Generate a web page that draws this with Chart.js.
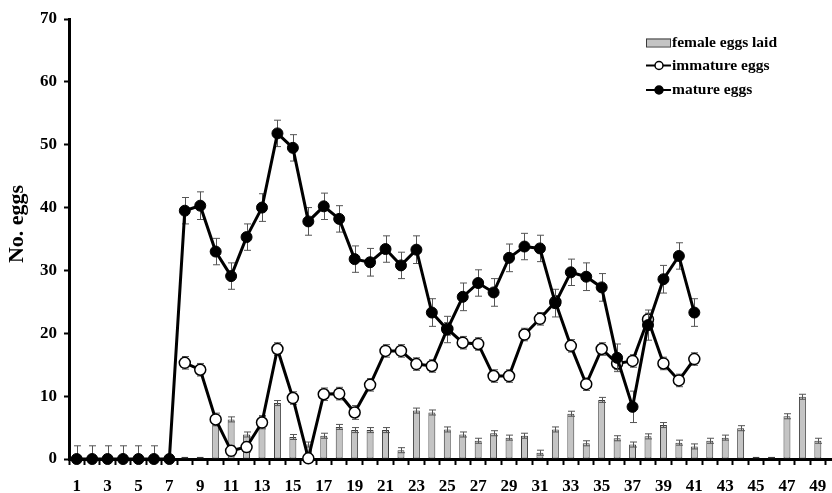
<!DOCTYPE html>
<html>
<head>
<meta charset="utf-8">
<script src="https://cdn.jsdelivr.net/npm/chart.js@4/dist/chart.umd.min.js"></script>
<style>
  html, body { margin: 0; padding: 0; background: #fff; overflow: hidden; }
  #wrap { width: 832px; height: 493px; overflow: hidden; }
  canvas { display: block; }
</style>
</head>
<body>
<div id="wrap"><canvas id="c" width="848" height="493"></canvas></div>
<script>
// Day of adult life
const days = Array.from({ length: 50 }, (_, i) => String(i + 1));

// Mature eggs in ovaries (mean and SE)
const matureEggs = [0, 0, 0, 0, 0, 0, 0,
  39.5, 40.3, 33.0, 29.1, 35.3, 40.0, 51.8, 49.5, 37.8, 40.2, 38.2, 31.8, 31.3,
  33.4, 30.8, 33.3, 23.3, 20.6, 25.8, 28.0, 26.5, 32.0, 33.8, 33.5, 24.8, 29.7,
  29.0, 27.3, 16.1, 8.3, 21.3, 28.6, 32.3, 23.3,
  null, null, null, null, null, null, null, null, null];
const matureSE = [2.1, 2.1, 2.1, 2.1, 2.1, 2.1, 0,
  2.1, 2.2, 2.1, 2.1, 2.1, 2.2, 2.1, 2.1, 2.2, 2.1, 2.1, 2.1, 2.2,
  2.1, 2.1, 2.2, 2.2, 2.1, 2.2, 2.1, 2.2, 2.2, 2.1, 2.1, 2.2, 2.1,
  2.2, 2.2, 2.2, 2.5, 2.4, 2.2, 2.1, 2.2,
  null, null, null, null, null, null, null, null, null];

// Immature eggs in ovaries (mean and SE)
const immatureEggs = [null, null, null, null, null, null, null,
  15.3, 14.2, 6.3, 1.3, 1.9, 5.8, 17.5, 9.7, 0.1, 10.3, 10.4, 7.4, 11.8,
  17.2, 17.2, 15.1, 14.8, 20.7, 18.5, 18.3, 13.2, 13.2, 19.8, 22.3, 25.0, 18.0,
  11.9, 17.5, 15.2, 15.6, 22.2, 15.2, 12.5, 15.9,
  null, null, null, null, null, null, null, null, null];
const immatureSE = [null, null, null, null, null, null, null,
  1.0, 1.0, 1.0, 0.8, 0.8, 1.0, 1.0, 1.0, 0.8, 1.0, 1.0, 1.1, 1.0,
  1.0, 1.0, 1.0, 1.0, 1.0, 1.0, 1.0, 1.0, 1.0, 1.0, 1.0, 1.0, 1.0,
  1.0, 1.0, 1.0, 1.0, 1.0, 1.0, 1.0, 1.0,
  null, null, null, null, null, null, null, null, null];

// Eggs laid per female per day (mean and SE)
const eggsLaid = [null, null, null, null, null, null, null,
  0.35, 0.35, 5.7, 6.3, 3.9, 6.5, 8.9, 3.5, 2.3, 3.7, 5.1, 4.6, 4.6,
  4.6, 1.4, 7.7, 7.4, 4.7, 3.9, 2.9, 4.1, 3.4, 3.7, 1.0, 4.7, 7.2,
  2.5, 9.4, 3.3, 2.3, 3.6, 5.4, 2.6, 2.0, 2.9, 3.4, 4.9, 0.35, 0.35,
  6.8, 9.9, 2.9, null];
const eggsLaidSE = [null, null, null, null, null, null, null,
  0, 0, 0.4, 0.4, 0.4, 0.4, 0.4, 0.4, 0.4, 0.4, 0.4, 0.4, 0.4,
  0.4, 0.4, 0.4, 0.4, 0.4, 0.4, 0.4, 0.4, 0.4, 0.4, 0.4, 0.4, 0.4,
  0.4, 0.4, 0.4, 0.4, 0.4, 0.4, 0.4, 0.4, 0.4, 0.4, 0.4, 0, 0,
  0.4, 0.4, 0.4, null];

const yTicks = [0, 10, 20, 30, 40, 50, 60, 70];
const yTitle = 'No. eggs';
const legendItems = ['female eggs laid', 'immature eggs', 'mature eggs'];

const SERIF = '"Liberation Serif", "Times New Roman", serif';
const BAR_FILL = '#c4c4c4';
const BAR_EDGE = '#3a3a3a';

// Whiskers (mean ± SE) for a dataset, computed through the chart scales
function drawWhiskers(chart, dsIndex, se) {
  const { ctx, chartArea, scales } = chart;
  const meta = chart.getDatasetMeta(dsIndex);
  const vals = chart.data.datasets[dsIndex].data;
  ctx.save();
  ctx.beginPath();
  ctx.rect(chartArea.left, chartArea.top, chartArea.right - chartArea.left, chartArea.bottom - chartArea.top);
  ctx.clip();
  ctx.strokeStyle = '#555';
  ctx.lineWidth = 1;
  meta.data.forEach((el, i) => {
    const v = vals[i], e = se[i];
    if (v == null || !e) return;
    const x = Math.round(el.x) + 0.5;
    const yHi = scales.y.getPixelForValue(v + e);
    const yLo = scales.y.getPixelForValue(v - e);
    ctx.beginPath();
    ctx.moveTo(x, yHi); ctx.lineTo(x, yLo);
    ctx.moveTo(x - 3.5, yHi); ctx.lineTo(x + 3.5, yHi);
    ctx.moveTo(x - 3.5, yLo); ctx.lineTo(x + 3.5, yLo);
    ctx.stroke();
  });
  ctx.restore();
}

const whiskerPlugin = {
  id: 'whiskers',
  beforeDatasetDraw(chart, args) {
    if (args.index === 0) drawWhiskers(chart, 0, matureSE);
    if (args.index === 1) drawWhiskers(chart, 1, immatureSE);
  },
  afterDatasetDraw(chart, args) {
    if (args.index === 2) drawWhiskers(chart, 2, eggsLaidSE);
  }
};

// Key in the upper right and the rotated y-axis title
const annotatePlugin = {
  id: 'annotate',
  afterDraw(chart) {
    const { ctx } = chart;
    ctx.save();
    ctx.font = 'bold 15.5px ' + SERIF;
    ctx.fillStyle = '#000';
    ctx.textBaseline = 'middle';
    ctx.textAlign = 'left';
    const x0 = 646, x1 = 671, tx = 672;
    const rows = [42.5, 65.5, 90];
    // bar swatch
    ctx.fillStyle = BAR_FILL;
    ctx.fillRect(x0, rows[0] - 4, x1 - x0, 8);
    ctx.strokeStyle = BAR_EDGE;
    ctx.lineWidth = 1;
    ctx.strokeRect(x0 + 0.5, rows[0] - 4 + 0.5, x1 - x0 - 1, 8);
    // line swatches
    [[rows[1], '#fff'], [rows[2], '#000']].forEach(([y, fill]) => {
      ctx.strokeStyle = '#000';
      ctx.lineWidth = 2;
      ctx.beginPath(); ctx.moveTo(x0, y); ctx.lineTo(x1, y); ctx.stroke();
      ctx.beginPath(); ctx.arc(659, y, 4, 0, Math.PI * 2);
      ctx.fillStyle = fill; ctx.fill();
      ctx.lineWidth = 1.5; ctx.stroke();
    });
    ctx.fillStyle = '#000';
    legendItems.forEach((t, i) => ctx.fillText(t, tx, rows[i]));
    // y title
    ctx.translate(17, 224);
    ctx.rotate(-Math.PI / 2);
    ctx.textAlign = 'center';
    ctx.font = 'bold 22px ' + SERIF;
    ctx.fillText(yTitle, 0, 0);
    ctx.restore();
  }
};

new Chart(document.getElementById('c'), {
  data: {
    labels: days,
    datasets: [
      {
        type: 'line', label: legendItems[2], data: matureEggs,
        borderColor: '#000', borderWidth: 3, backgroundColor: '#000',
        pointRadius: 5.5, pointBackgroundColor: '#000', pointBorderColor: '#000', pointBorderWidth: 1,
        tension: 0, spanGaps: false, clip: false
      },
      {
        type: 'line', label: legendItems[1], data: immatureEggs,
        borderColor: '#000', borderWidth: 3, backgroundColor: '#fff',
        pointRadius: 5.5, pointBackgroundColor: '#fff', pointBorderColor: '#000', pointBorderWidth: 1.5,
        tension: 0, spanGaps: false, clip: false
      },
      {
        type: 'bar', label: legendItems[0], data: eggsLaid,
        backgroundColor: BAR_FILL, borderColor: BAR_EDGE, borderWidth: 1,
        barPercentage: 0.45, categoryPercentage: 1.0, borderSkipped: false
      }
    ]
  },
  options: {
    responsive: false,
    animation: false,
    events: [],
    layout: { padding: { top: 19, right: 0, left: 0, bottom: 0 } },
    plugins: { legend: { display: false }, tooltip: { enabled: false } },
    scales: {
      x: {
        type: 'category',
        offset: true,
        grid: { display: true, drawOnChartArea: false, offset: true, tickLength: 6, tickWidth: 2, tickColor: '#000' },
        border: { display: true, color: '#000', width: 3 },
        ticks: {
          autoSkip: false, maxRotation: 0, padding: 11, color: '#000',
          font: { family: SERIF, size: 17, weight: 'bold' },
          callback: (v, i) => (i % 2 === 0 ? days[i] : '')
        },
        afterFit: s => { s.height = 34; }
      },
      y: {
        min: 0, max: 70,
        afterBuildTicks: s => { s.ticks = yTicks.map(v => ({ value: v })); },
        grid: { display: true, drawOnChartArea: false, tickLength: 5, tickWidth: 2, tickColor: '#000' },
        border: { display: true, color: '#000', width: 3 },
        ticks: { padding: 7, color: '#000', font: { family: SERIF, size: 17, weight: 'bold' } },
        afterFit: s => { s.width = 69; }
      }
    }
  },
  plugins: [whiskerPlugin, annotatePlugin]
});
</script>
</body>
</html>
